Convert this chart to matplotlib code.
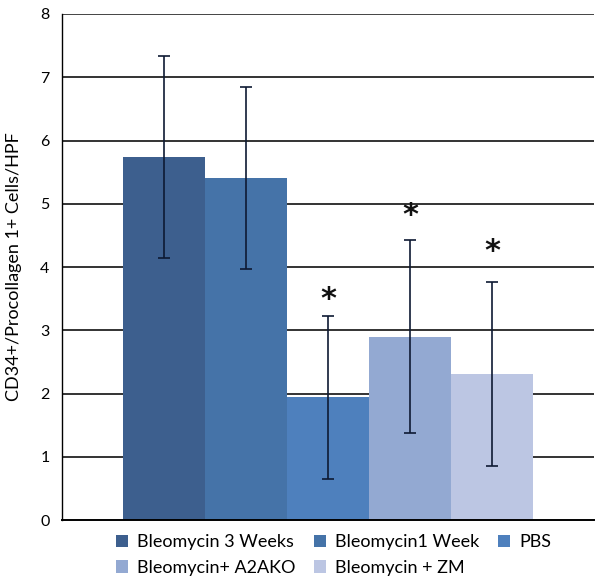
import matplotlib
matplotlib.use("Agg")
import matplotlib.pyplot as plt
import numpy as np
from matplotlib.patches import Patch

# data
groups = ["Bleomycin 3 Weeks", "Bleomycin1 Week", "PBS",
          "Bleomycin+ A2AKO", "Bleomycin + ZM"]
means = [5.74, 5.41, 1.94, 2.90, 2.31]
errors = [1.60, 1.44, 1.29, 1.52, 1.45]
star_y = [None, None, 3.48, 4.81, 4.24]
colors = ["#3d5f8e", "#4573a8", "#4e80bd", "#93a9d2", "#bcc6e3"]
yticks = [0, 1, 2, 3, 4, 5, 6, 7, 8]

plt.rcParams["font.family"] = ["Lato", "DejaVu Sans"]

fig = plt.figure(figsize=(6.02, 5.83), dpi=100)
ax = fig.add_axes([0.103, 0.108, 0.884, 0.868])

x = np.arange(len(groups))
ax.bar(x, means, width=1.0, color=colors, zorder=2)
ax.errorbar(x, means, yerr=errors, fmt="none", ecolor="#0e1a33",
            elinewidth=1.2, capsize=4, capthick=1.2, zorder=3)

for xi, sy in zip(x, star_y):
    if sy is not None:
        ax.text(xi, sy, "*", ha="center", va="center", fontsize=22,
                fontweight="bold", family="DejaVu Sans", color="#111111",
                zorder=4)

# horizontal gridlines
for t in yticks[1:-1]:
    ax.axhline(t, color="#111111", lw=1.2, zorder=1)
ax.axhline(8, color="#444444", lw=1.4, zorder=1)

ax.set_xlim(-1.24, 5.24)
ax.set_ylim(0, 8)
ax.set_yticks(yticks)
ax.set_xticks([])
ax.tick_params(axis="y", length=0, pad=9, labelsize=11.5)

for s in ["top", "right"]:
    ax.spines[s].set_visible(False)
ax.spines["left"].set_linewidth(1.0)
ax.spines["bottom"].set_linewidth(1.4)

ax.set_ylabel("CD34+/Procollagen 1+ Cells/HPF", fontsize=13)
ax.yaxis.set_label_coords(-0.075, 0.50)

handles = [Patch(facecolor=c, edgecolor="none") for c in colors]
order = [0, 3, 1, 4, 2]
fig.legend([handles[i] for i in order], [groups[i] for i in order],
           ncol=3, loc="lower left", bbox_to_anchor=(0.165, -0.016),
           frameon=False, fontsize=13, handlelength=0.7, handleheight=0.7,
           handletextpad=0.5, columnspacing=1.0, labelspacing=0.55)

fig.savefig("out.png", dpi=100)
